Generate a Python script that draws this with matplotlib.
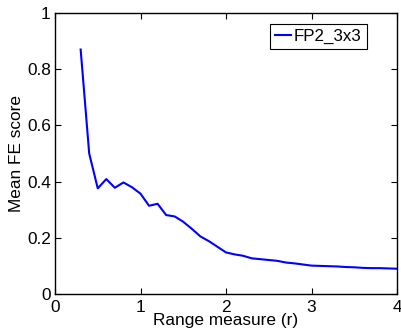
import matplotlib
matplotlib.use("Agg")
import matplotlib.pyplot as plt
from matplotlib.ticker import FuncFormatter

r_values = [0.3, 0.4, 0.5, 0.6, 0.7, 0.8, 0.9, 1.0, 1.1, 1.2, 1.3, 1.4, 1.5, 1.6, 1.7, 1.8, 1.9,
            2.0, 2.1, 2.2, 2.3, 2.4, 2.5, 2.6, 2.7, 2.8, 2.9, 3.0, 3.1, 3.2, 3.3, 3.4, 3.5, 3.6,
            3.7, 3.8, 3.9, 4.0]
fe_score = [0.870, 0.500, 0.376, 0.409, 0.378, 0.397, 0.380, 0.357, 0.314, 0.321, 0.281, 0.276,
            0.257, 0.232, 0.205, 0.188, 0.168, 0.148, 0.141, 0.136, 0.127, 0.124, 0.121, 0.118,
            0.112, 0.109, 0.105, 0.101, 0.100, 0.099, 0.098, 0.096, 0.095, 0.093, 0.092, 0.092,
            0.091, 0.090]
series_label = "FP2_3x3"
x_ticks = [0, 1, 2, 3, 4]
y_ticks = [0, 0.2, 0.4, 0.6, 0.8, 1.0]

plt.rcParams['font.family'] = ['Liberation Sans', 'DejaVu Sans']
fig = plt.figure(figsize=(4.01, 3.31), dpi=100)
ax = fig.add_axes([55/401, 1 - 294/331, (397-55)/401, (294-13)/331])
ax.plot(r_values, fe_score, color='#0000ff', lw=1.5, label=series_label)
ax.set_xlim(0, 4)
ax.set_ylim(0, 1)
ax.set_xticks(x_ticks)
ax.set_yticks(y_ticks)
ax.yaxis.set_major_formatter(FuncFormatter(lambda v, p: ('%g' % round(v, 2))))
ax.tick_params(direction='in', top=True, right=True, labelsize=12.4, length=4, width=0.8)
ax.tick_params(axis='x', pad=4)
ax.tick_params(axis='y', pad=3)
for s in ax.spines.values():
    s.set_linewidth(1.0)
ax.set_xlabel("Range measure (r)", fontsize=12.4, labelpad=-1)
ax.set_ylabel("Mean FE score", fontsize=12.4, labelpad=2)
leg = ax.legend(loc='upper right', fontsize=12.2, fancybox=False, edgecolor='black',
                framealpha=1, handlelength=0.9, handletextpad=0.2, borderpad=0.3,
                borderaxespad=0, bbox_to_anchor=(0.912, 0.961))
leg.get_frame().set_linewidth(0.8)
fig.savefig("out.png", dpi=100)
